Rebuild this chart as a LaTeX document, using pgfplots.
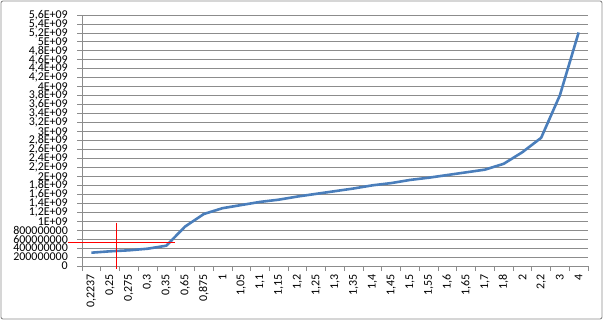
\documentclass[border=0pt]{standalone}
\usepackage{fontspec}
\setmainfont{Carlito}
\usepackage{pgfplots}
\pgfplotsset{compat=1.18}
\definecolor{excelblue}{HTML}{4A7EBB}
\definecolor{gridgray}{HTML}{8C8C8C}
\begin{document}
\begin{tikzpicture}[x=1bp,y=1bp]
\useasboundingbox (0,0) rectangle (605,322);
\draw[gridgray, line width=0.9bp, rounded corners=2bp] (1,3) rectangle (602,321);
\begin{axis}[at={(82bp,56bp)}, anchor=south west, scale only axis,
  width=506bp, height=251bp,
  xmin=-0.5, xmax=26.5, ymin=0, ymax=5.6e9,
  clip=false,
  axis x line*=bottom, axis y line*=left,
  axis line style={gridgray, line width=0.8bp, -},
  tick align=outside,
  xtick={0,1,2,3,4,5,6,7,8,9,10,11,12,13,14,15,16,17,18,19,20,21,22,23,24,25,26},
  xticklabels={{0,2237},{0,25},{0,275},{0,3},{0,35},{0,65},{0,875},1,{1,05},{1,1},{1,15},{1,2},{1,25},{1,3},{1,35},{1,4},{1,45},{1,5},{1,55},{1,6},{1,65},{1,7},{1,8},2,{2,2},3,4},
  major x tick style={draw=none},
  minor xtick={-0.5,0.5,1.5,2.5,3.5,4.5,5.5,6.5,7.5,8.5,9.5,10.5,11.5,12.5,13.5,14.5,15.5,16.5,17.5,18.5,19.5,20.5,21.5,22.5,23.5,24.5,25.5,26.5},
  minor tick length=5bp, major tick length=5bp,
  minor x tick style={gridgray, line width=0.8bp},
  ytick={0,2e8,4e8,6e8,8e8,1e9,1.2e9,1.4e9,1.6e9,1.8e9,2e9,2.2e9,2.4e9,2.6e9,2.8e9,3e9,3.2e9,3.4e9,3.6e9,3.8e9,4e9,4.2e9,4.4e9,4.6e9,4.8e9,5e9,5.2e9,5.4e9,5.6e9},
  yticklabels={0,200000000,400000000,600000000,800000000,1E+09,{1,2E+09},{1,4E+09},{1,6E+09},{1,8E+09},2E+09,{2,2E+09},{2,4E+09},{2,6E+09},{2,8E+09},3E+09,{3,2E+09},{3,4E+09},{3,6E+09},{3,8E+09},4E+09,{4,2E+09},{4,4E+09},{4,6E+09},{4,8E+09},5E+09,{5,2E+09},{5,4E+09},{5,6E+09}},
  scaled y ticks=false,
  y tick style={gridgray, line width=0.8bp},
  ymajorgrids, major grid style={gridgray, line width=0.8bp},
  yticklabel style={font=\fontsize{12}{10}\selectfont, inner sep=0pt, xshift=-9bp},
  xticklabel style={font=\fontsize{12}{12}\selectfont, rotate=90, anchor=east, inner sep=0pt, xshift=-3bp},
]
\addplot[excelblue, line width=2.6bp, line join=round] coordinates {
(0,2.97e8) (1,3.28e8) (2,3.5e8) (3,3.86e8) (4,4.53e8) (5,8.8e8) (6,1.16e9)
(7,1.29e9) (8,1.36e9) (9,1.43e9) (10,1.48e9) (11,1.55e9) (12,1.61e9)
(13,1.67e9) (14,1.73e9) (15,1.80e9) (16,1.85e9) (17,1.92e9) (18,1.97e9)
(19,2.03e9) (20,2.09e9) (21,2.15e9) (22,2.28e9) (23,2.54e9) (24,2.86e9)
(25,3.81e9) (26,5.21e9)};
\addplot[red, line width=0.9bp] coordinates {(-1.247,5.35e8) (4.46,5.35e8)};
\addplot[red, line width=0.9bp] coordinates {(1.314,9.66e8) (1.314,-0.67e8)};
\end{axis}
\end{tikzpicture}
\end{document}
